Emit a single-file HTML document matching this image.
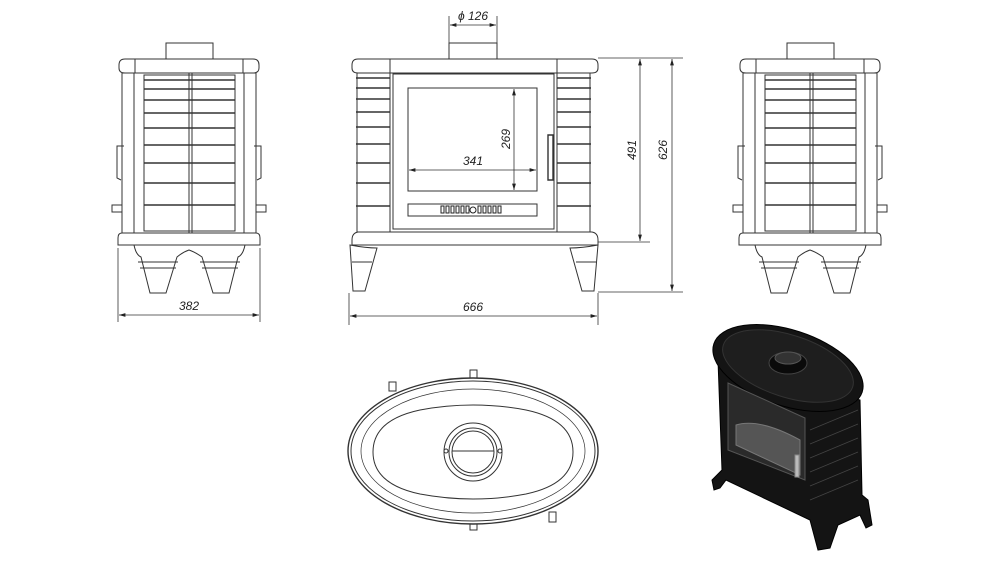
<!DOCTYPE html>
<html><head><meta charset="utf-8"><style>
html,body{margin:0;padding:0;background:#fff}
svg{display:block}
text{font-family:"Liberation Sans",sans-serif;font-style:italic;font-size:12px;fill:#222}
</style></head><body>
<svg width="1000" height="562" viewBox="0 0 1000 562" xmlns="http://www.w3.org/2000/svg">
<defs>
<marker id="a" viewBox="0 0 10 10" refX="10" refY="5" markerWidth="8" markerHeight="8" orient="auto-start-reverse"><path d="M0,2 L10,5 L0,8 z" fill="#222"/></marker>
<g id="side" fill="none" stroke="#333" stroke-width="1">
  <rect x="166" y="43" width="47" height="16"/>
  <path d="M125,59 H253 Q259,59 259,65 V68 Q259,73 253,73 H125 Q119,73 119,68 V65 Q119,59 125,59 Z"/>
  <line x1="135" y1="59" x2="135" y2="73"/><line x1="243" y1="59" x2="243" y2="73"/>
  <rect x="122" y="73" width="12" height="160"/>
  <rect x="244" y="73" width="12" height="160"/>
  <rect x="134" y="73" width="110" height="160"/>
  <rect x="144" y="75" width="91" height="156"/>
  <line x1="189" y1="73" x2="189" y2="233"/><line x1="192" y1="73" x2="192" y2="233"/>
  <g stroke-width="1.6"><line x1="144" y1="80" x2="235" y2="80"/><line x1="144" y1="89" x2="235" y2="89"/><line x1="144" y1="100" x2="235" y2="100"/><line x1="144" y1="113" x2="235" y2="113"/><line x1="144" y1="128" x2="235" y2="128"/><line x1="144" y1="145" x2="235" y2="145"/><line x1="144" y1="163" x2="235" y2="163"/><line x1="144" y1="183" x2="235" y2="183"/><line x1="144" y1="205" x2="235" y2="205"/></g>
  <path d="M124,146 H117 V178 L121,180"/><path d="M254,146 H261 V178 L257,180"/>
  <rect x="112" y="205" width="10" height="7"/><rect x="256" y="205" width="10" height="7"/>
  <path d="M122,233 H256 Q260,233 260,238 V245 H118 V238 Q118,233 122,233 Z"/>
  <path d="M134,245 Q136,255 141,257 L150,293 H166 L177,257 Q183,252 189,250 Q195,252 202,257 L213,293 H229 L238,257 Q243,255 245,245"/>
  <line x1="138" y1="262" x2="178" y2="262"/><line x1="200" y1="262" x2="240" y2="262"/>
  <line x1="140" y1="268" x2="176" y2="268"/><line x1="202" y1="268" x2="238" y2="268"/>
</g>
</defs>

<!-- left side view -->
<use href="#side"/>
<g stroke="#333" stroke-width="0.8"><line x1="118" y1="248" x2="118" y2="322"/><line x1="260" y1="248" x2="260" y2="322"/>
<line x1="119" y1="315" x2="259" y2="315" marker-start="url(#a)" marker-end="url(#a)"/></g>
<text x="189" y="310" text-anchor="middle">382</text>

<!-- right side view -->
<use href="#side" transform="translate(621,0)"/>

<!-- front view -->
<g fill="none" stroke="#333" stroke-width="1">
  <rect x="449" y="43" width="48" height="16"/>
  <path d="M358,59 H592 Q598,59 598,65 V68 Q598,73 592,73 H358 Q352,73 352,68 V65 Q352,59 358,59 Z"/>
  <line x1="390" y1="59" x2="390" y2="73"/><line x1="557" y1="59" x2="557" y2="73"/>
  <rect x="357" y="73" width="33" height="159"/><rect x="557" y="73" width="33" height="159"/>
  <g stroke-width="1.6">
  <path d="M356,78 H390 M356,88 H390 M356,99 H390 M356,112 H390 M356,127 H390 M356,144 H390 M356,163 H390 M356,183 H390 M356,206 H390"/>
  <path d="M557,78 H591 M557,88 H591 M557,99 H591 M557,112 H591 M557,127 H591 M557,144 H591 M557,163 H591 M557,183 H591 M557,206 H591"/>
  </g>
  <rect x="390" y="73" width="167" height="159"/>
  <rect x="393" y="74" width="161" height="155"/>
  <rect x="408" y="88" width="129" height="103"/>
  <rect x="408" y="204" width="129" height="12"/>
  <path d="M548,135 h5 v45 h-5 z" stroke-width="1.4"/>
  <path d="M352,240 Q352,233 358,232 H592 Q598,233 598,240 V245 H352 Z"/>
  <path d="M350,245 Q366,248 377,248 L365,291 H353 Z"/><path d="M598,245 Q582,248 570,248 L582,291 H594 Z"/>
  <line x1="352" y1="262" x2="372" y2="262"/><line x1="576" y1="262" x2="596" y2="262"/>
</g>
<g fill="none" stroke="#222" stroke-width="1">
  <rect x="441" y="206" width="3" height="7"/><rect x="446" y="206" width="3" height="7"/><rect x="451" y="206" width="3" height="7"/><rect x="456" y="206" width="3" height="7"/><rect x="461" y="206" width="3" height="7"/><rect x="466" y="206" width="3" height="7"/>
  <circle cx="473" cy="210" r="3"/>
  <rect x="478" y="206" width="3" height="7"/><rect x="483" y="206" width="3" height="7"/><rect x="488" y="206" width="3" height="7"/><rect x="493" y="206" width="3" height="7"/><rect x="498" y="206" width="3" height="7"/>
</g>
<g stroke="#333" stroke-width="0.8" fill="none">
  <line x1="449" y1="16" x2="449" y2="43"/><line x1="497" y1="16" x2="497" y2="43"/>
  <line x1="450" y1="25" x2="496" y2="25" marker-start="url(#a)" marker-end="url(#a)"/>
  <line x1="409" y1="170" x2="536" y2="170" marker-start="url(#a)" marker-end="url(#a)"/>
  <line x1="514" y1="89" x2="514" y2="190" marker-start="url(#a)" marker-end="url(#a)"/>
  <line x1="598" y1="58" x2="683" y2="58"/><line x1="598" y1="242" x2="650" y2="242"/><line x1="598" y1="292" x2="683" y2="292"/>
  <line x1="640" y1="59" x2="640" y2="241" marker-start="url(#a)" marker-end="url(#a)"/>
  <line x1="672" y1="59" x2="672" y2="291" marker-start="url(#a)" marker-end="url(#a)"/>
  <line x1="349" y1="293" x2="349" y2="325"/><line x1="598" y1="293" x2="598" y2="325"/>
  <line x1="350" y1="316" x2="597" y2="316" marker-start="url(#a)" marker-end="url(#a)"/>
</g>
<text x="473" y="20" text-anchor="middle">ϕ 126</text>
<text x="473" y="165" text-anchor="middle">341</text>
<text x="473" y="311" text-anchor="middle">666</text>
<text transform="translate(510,139) rotate(-90)" text-anchor="middle">269</text>
<text transform="translate(636,150) rotate(-90)" text-anchor="middle">491</text>
<text transform="translate(667,150) rotate(-90)" text-anchor="middle">626</text>

<!-- top view -->
<g fill="none" stroke="#333" stroke-width="1">
  <rect x="389" y="382" width="7" height="9"/><rect x="470" y="370" width="7" height="8"/>
  <rect x="470" y="522" width="7" height="8"/><rect x="549" y="512" width="7" height="10"/>
  <ellipse cx="473" cy="451" rx="125" ry="73" fill="#fff" stroke-width="1.4"/>
  <ellipse cx="473" cy="451" rx="122" ry="70"/>
  <ellipse cx="473" cy="451" rx="112" ry="62" stroke-width="0.7"/>
  <path d="M373,452 Q373,420 420,410 Q473,400 526,410 Q573,420 573,452 Q573,484 526,494 Q473,504 420,494 Q373,484 373,452 Z"/>
  <circle cx="473" cy="452" r="29"/><circle cx="473" cy="452" r="24"/><circle cx="473" cy="452" r="21"/>
  <line x1="452" y1="451" x2="494" y2="451"/>
  <circle cx="446" cy="451" r="2"/><circle cx="500" cy="451" r="2"/>
</g>

<!-- 3D render -->
<g fill="#141414" stroke="#000">
  <path d="M718,360 L722,470 L712,480 L714,490 L720,488 L726,480 L810,520 L818,550 L830,548 L838,525 L860,515 L866,528 L872,525 L868,500 L862,495 L860,400 Z"/>
  <ellipse cx="788" cy="368" rx="78" ry="38" transform="rotate(18 788 368)"/>
  <ellipse cx="788" cy="366" rx="68" ry="31" transform="rotate(18 788 366)" fill="#1e1e1e" stroke="#333"/>
  <ellipse cx="788" cy="363" rx="19" ry="11" fill="#0a0a0a" stroke="#444"/>
  <ellipse cx="788" cy="358" rx="13" ry="6" fill="#333" stroke="#555"/>
  <path d="M728,383 L805,418 L805,480 L728,450 Z" fill="#2a2a2a" stroke="#555"/>
  <path d="M736,425 Q760,418 800,440 L800,475 L736,445 Z" fill="#555" stroke="#777"/>
  <rect x="795" y="455" width="4" height="22" fill="#bbb" stroke="#888"/>
</g>
<g stroke="#444" stroke-width="0.8">
  <path d="M810,430 L858,410 M810,444 L858,424 M810,458 L858,438 M810,472 L858,452 M810,486 L858,466 M810,500 L858,480"/>
</g>
</svg>
</body></html>
